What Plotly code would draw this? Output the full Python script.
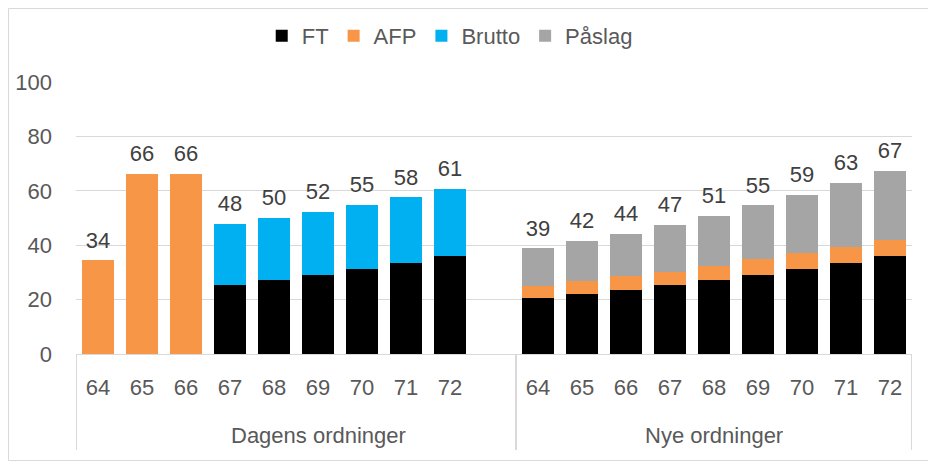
import plotly.graph_objects as go

group_names = ["Dagens ordninger", "Nye ordninger"]
groups = ["Dagens ordninger"] * 10 + ["Nye ordninger"] * 9
ages = ["64", "65", "66", "67", "68", "69", "70", "71", "72", "",
        "64", "65", "66", "67", "68", "69", "70", "71", "72"]

ft = [0, 0, 0, 25.2, 27.1, 29.0, 31.1, 33.6, 36.2, None,
      20.5, 22.1, 23.4, 25.2, 27.1, 29.0, 31.1, 33.6, 36.2]
afp = [34.4, 66.2, 66.2, 0, 0, 0, 0, 0, 0, None,
       4.5, 4.7, 5.2, 5.1, 5.2, 5.8, 5.9, 5.9, 5.7]
brutto = [0, 0, 0, 22.6, 22.9, 23.3, 23.7, 24.0, 24.4, None,
          0, 0, 0, 0, 0, 0, 0, 0, 0]
paslag = [0, 0, 0, 0, 0, 0, 0, 0, 0, None,
          13.8, 14.9, 15.6, 17.1, 18.5, 19.8, 21.6, 23.4, 25.4]

yticks = [0, 20, 40, 60, 80, 100]

totals = []
for a, b, c, d in zip(ft, afp, brutto, paslag):
    totals.append(None if a is None else a + b + c + d)
labels = ["" if t is None else str(int(round(t))) for t in totals]

xpos = list(range(len(ages)))
FONT = "Liberation Sans"
TXT = "#595959"
GRID = "#D9D9D9"

# the page body adds an 8px offset, so the figure is 8px smaller
W, H = 928, 454
ML, MR, MT, MB = 68, 24, 74, 108
PW, PH = W - ML - MR, H - MT - MB

fig = go.Figure()
series = [("FT", ft, "#000000"), ("AFP", afp, "#F79646"),
          ("Brutto", brutto, "#00B0F0"), ("Påslag", paslag, "#A5A5A5")]
for name, vals, col in series:
    fig.add_trace(go.Bar(x=xpos, y=vals, name=name,
                         marker=dict(color=col, line=dict(width=0)),
                         hoverinfo="skip"))

fig.add_trace(go.Scatter(x=xpos, y=totals, mode="markers+text", text=labels,
                         textposition="top center", showlegend=False,
                         marker=dict(size=10, color="rgba(0,0,0,0)"),
                         textfont=dict(family=FONT, size=22, color="#404040"),
                         hoverinfo="skip"))

fig.update_layout(
    width=W, height=H,
    barmode="stack", bargap=0.28,
    plot_bgcolor="white", paper_bgcolor="white",
    margin=dict(l=ML, r=MR, t=MT, b=MB, autoexpand=False),
    font=dict(family=FONT, size=22, color=TXT),
    legend=dict(orientation="h", xref="container", x=0.476, xanchor="center",
                yref="container", y=1 - 28 / H, yanchor="middle",
                font=dict(family=FONT, size=22, color=TXT),
                traceorder="normal", bgcolor="rgba(0,0,0,0)"),
    showlegend=True,
)
fig.update_yaxes(range=[0, 100], tickvals=yticks, ticktext=[str(v) for v in yticks],
                 showgrid=True, gridcolor=GRID, gridwidth=1, zeroline=False,
                 showline=False, ticks="", ticklabelstandoff=23, automargin=False,
                 tickfont=dict(family=FONT, size=22, color=TXT), fixedrange=True)
fig.update_xaxes(range=[-0.5, len(ages) - 0.5], tickvals=xpos, ticktext=ages,
                 showline=True, linecolor=GRID, linewidth=1, showgrid=False,
                 ticks="", ticklabelstandoff=14, automargin=False,
                 tickfont=dict(family=FONT, size=22, color=TXT), fixedrange=True)

# group dividers and labels
bounds = []
for i, g in enumerate(groups):
    if i == 0 or groups[i - 1] != g:
        bounds.append(i - 0.5)
bounds.append(len(groups) - 0.5)
for b in bounds:
    fig.add_shape(type="line", xref="x", yref="paper", x0=b, x1=b,
                  y0=0, y1=-96 / PH, line=dict(color=GRID, width=2))
for g in group_names:
    idx = [i for i, gg in enumerate(groups) if gg == g]
    fig.add_annotation(x=(idx[0] + idx[-1]) / 2 + (0.5 if g == group_names[0] else 0),
                       xref="x", y=-81 / PH, yref="paper", text=g, showarrow=False,
                       yanchor="middle", font=dict(family=FONT, size=22, color=TXT))

# chart border
fig.add_shape(type="rect", xref="paper", yref="paper",
              x0=-(ML - 0.5) / PW, x1=1 + (MR - 1.5) / PW,
              y0=-(MB - 1.5) / PH, y1=1 + (MT - 0.5) / PH,
              line=dict(color=GRID, width=1), fillcolor="rgba(0,0,0,0)", layer="below")

fig.write_html("out.html")
